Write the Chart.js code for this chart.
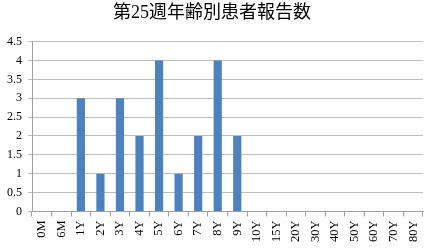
<!DOCTYPE html>
<html>
<head>
<meta charset="utf-8">
<script src="https://cdn.jsdelivr.net/npm/chart.js@4"></script>
<style>
  html, body { margin: 0; padding: 0; background: #fff; }
  #wrap { width: 424px; height: 249px; }
</style>
</head>
<body>
<div id="wrap"><canvas id="chart"></canvas></div>
<script>
const chartTitle = "第25週年齢別患者報告数";
const ageGroups = ["0M", "6M", "1Y", "2Y", "3Y", "4Y", "5Y", "6Y", "7Y", "8Y", "9Y",
  "10Y", "15Y", "20Y", "30Y", "40Y", "50Y", "60Y", "70Y", "80Y"];
const reports = [0, 0, 3, 1, 3, 2, 4, 1, 2, 4, 2, 0, 0, 0, 0, 0, 0, 0, 0, 0];

const serif = "'Liberation Serif', 'DejaVu Serif', 'Noto Sans CJK JP', serif";

const ctx = document.getElementById("chart");

new Chart(ctx, {
  type: "bar",
  data: {
    labels: ageGroups,
    datasets: [
      {
        data: reports,
        backgroundColor: "#4f81bd",
        borderWidth: 0,
        barPercentage: 0.42,
        categoryPercentage: 1
      }
    ]
  },
  options: {
    responsive: true,
    maintainAspectRatio: false,
    animation: false,
    layout: { padding: { left: 1, right: 1, top: 0, bottom: 3 } },
    plugins: {
      legend: { display: false },
      tooltip: { enabled: false },
      title: {
        display: true,
        text: chartTitle,
        color: "#000",
        font: { family: "'Liberation Serif', 'Noto Sans CJK JP', serif", size: 18, weight: "normal" },
        padding: { top: 2, bottom: 18 }
      }
    },
    scales: {
      x: {
        afterFit: (scale) => { scale.paddingRight = 0; },
        grid: {
          offset: true,
          drawOnChartArea: false,
          drawTicks: true,
          tickLength: 5,
          color: "#a0a0a0"
        },
        border: { color: "#a0a0a0" },
        ticks: {
          minRotation: 90,
          maxRotation: 90,
          color: "#000",
          padding: 4,
          font: { family: serif, size: 12.5 }
        }
      },
      y: {
        min: 0,
        max: 4.5,
        ticks: {
          stepSize: 0.5,
          color: "#000",
          padding: 6,
          font: { family: serif, size: 12 },
          callback: (v) => String(v)
        },
        grid: {
          color: "#bdbdbd",
          tickLength: 4
        },
        border: { color: "#a0a0a0" }
      }
    }
  }
});
</script>
</body>
</html>
